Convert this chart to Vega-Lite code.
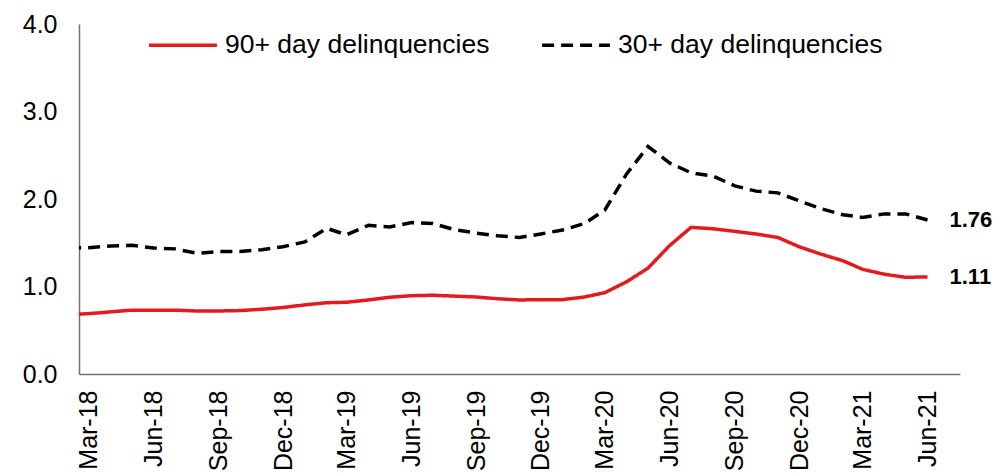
{
  "$schema": "https://vega.github.io/schema/vega-lite/v6.json",
  "width": 881,
  "height": 350,
  "autosize": {"type": "none"},
  "padding": {"left": 79, "top": 24, "right": 40, "bottom": 100},
  "background": "white",
  "config": {
    "view": {"stroke": null},
    "font": "Liberation Sans",
    "axis": {"labelFont": "Liberation Sans", "labelColor": "#000000", "grid": false, "ticks": false, "domainColor": "#767171", "domainWidth": 1.5, "title": null},
    "legend": {"labelFont": "Liberation Sans"}
  },
  "data": {
    "values": [
      {"date": "2018-02-01", "series": "90+ day delinquencies", "value": 0.68},
      {"date": "2018-03-01", "series": "90+ day delinquencies", "value": 0.69},
      {"date": "2018-04-01", "series": "90+ day delinquencies", "value": 0.71},
      {"date": "2018-05-01", "series": "90+ day delinquencies", "value": 0.73},
      {"date": "2018-06-01", "series": "90+ day delinquencies", "value": 0.73},
      {"date": "2018-07-01", "series": "90+ day delinquencies", "value": 0.73},
      {"date": "2018-08-01", "series": "90+ day delinquencies", "value": 0.72},
      {"date": "2018-09-01", "series": "90+ day delinquencies", "value": 0.72},
      {"date": "2018-10-01", "series": "90+ day delinquencies", "value": 0.725},
      {"date": "2018-11-01", "series": "90+ day delinquencies", "value": 0.74},
      {"date": "2018-12-01", "series": "90+ day delinquencies", "value": 0.76},
      {"date": "2019-01-01", "series": "90+ day delinquencies", "value": 0.79},
      {"date": "2019-02-01", "series": "90+ day delinquencies", "value": 0.815},
      {"date": "2019-03-01", "series": "90+ day delinquencies", "value": 0.82},
      {"date": "2019-04-01", "series": "90+ day delinquencies", "value": 0.846},
      {"date": "2019-05-01", "series": "90+ day delinquencies", "value": 0.877},
      {"date": "2019-06-01", "series": "90+ day delinquencies", "value": 0.895},
      {"date": "2019-07-01", "series": "90+ day delinquencies", "value": 0.90},
      {"date": "2019-08-01", "series": "90+ day delinquencies", "value": 0.89},
      {"date": "2019-09-01", "series": "90+ day delinquencies", "value": 0.88},
      {"date": "2019-10-01", "series": "90+ day delinquencies", "value": 0.86},
      {"date": "2019-11-01", "series": "90+ day delinquencies", "value": 0.846},
      {"date": "2019-12-01", "series": "90+ day delinquencies", "value": 0.85},
      {"date": "2020-01-01", "series": "90+ day delinquencies", "value": 0.85},
      {"date": "2020-02-01", "series": "90+ day delinquencies", "value": 0.88},
      {"date": "2020-03-01", "series": "90+ day delinquencies", "value": 0.93},
      {"date": "2020-04-01", "series": "90+ day delinquencies", "value": 1.055},
      {"date": "2020-05-01", "series": "90+ day delinquencies", "value": 1.21},
      {"date": "2020-06-01", "series": "90+ day delinquencies", "value": 1.47},
      {"date": "2020-07-01", "series": "90+ day delinquencies", "value": 1.676},
      {"date": "2020-08-01", "series": "90+ day delinquencies", "value": 1.66},
      {"date": "2020-09-01", "series": "90+ day delinquencies", "value": 1.63},
      {"date": "2020-10-01", "series": "90+ day delinquencies", "value": 1.60},
      {"date": "2020-11-01", "series": "90+ day delinquencies", "value": 1.56},
      {"date": "2020-12-01", "series": "90+ day delinquencies", "value": 1.455},
      {"date": "2021-01-01", "series": "90+ day delinquencies", "value": 1.37},
      {"date": "2021-02-01", "series": "90+ day delinquencies", "value": 1.295},
      {"date": "2021-03-01", "series": "90+ day delinquencies", "value": 1.196},
      {"date": "2021-04-01", "series": "90+ day delinquencies", "value": 1.14},
      {"date": "2021-05-01", "series": "90+ day delinquencies", "value": 1.105},
      {"date": "2021-06-01", "series": "90+ day delinquencies", "value": 1.11},
      {"date": "2018-02-01", "series": "30+ day delinquencies", "value": 1.44},
      {"date": "2018-03-01", "series": "30+ day delinquencies", "value": 1.444},
      {"date": "2018-04-01", "series": "30+ day delinquencies", "value": 1.463},
      {"date": "2018-05-01", "series": "30+ day delinquencies", "value": 1.47},
      {"date": "2018-06-01", "series": "30+ day delinquencies", "value": 1.44},
      {"date": "2018-07-01", "series": "30+ day delinquencies", "value": 1.43},
      {"date": "2018-08-01", "series": "30+ day delinquencies", "value": 1.38},
      {"date": "2018-09-01", "series": "30+ day delinquencies", "value": 1.40},
      {"date": "2018-10-01", "series": "30+ day delinquencies", "value": 1.40},
      {"date": "2018-11-01", "series": "30+ day delinquencies", "value": 1.42},
      {"date": "2018-12-01", "series": "30+ day delinquencies", "value": 1.455},
      {"date": "2019-01-01", "series": "30+ day delinquencies", "value": 1.51},
      {"date": "2019-02-01", "series": "30+ day delinquencies", "value": 1.665},
      {"date": "2019-03-01", "series": "30+ day delinquencies", "value": 1.59},
      {"date": "2019-04-01", "series": "30+ day delinquencies", "value": 1.70},
      {"date": "2019-05-01", "series": "30+ day delinquencies", "value": 1.68},
      {"date": "2019-06-01", "series": "30+ day delinquencies", "value": 1.73},
      {"date": "2019-07-01", "series": "30+ day delinquencies", "value": 1.72},
      {"date": "2019-08-01", "series": "30+ day delinquencies", "value": 1.65},
      {"date": "2019-09-01", "series": "30+ day delinquencies", "value": 1.61},
      {"date": "2019-10-01", "series": "30+ day delinquencies", "value": 1.58},
      {"date": "2019-11-01", "series": "30+ day delinquencies", "value": 1.56},
      {"date": "2019-12-01", "series": "30+ day delinquencies", "value": 1.60},
      {"date": "2020-01-01", "series": "30+ day delinquencies", "value": 1.646},
      {"date": "2020-02-01", "series": "30+ day delinquencies", "value": 1.72},
      {"date": "2020-03-01", "series": "30+ day delinquencies", "value": 1.874},
      {"date": "2020-04-01", "series": "30+ day delinquencies", "value": 2.29},
      {"date": "2020-05-01", "series": "30+ day delinquencies", "value": 2.60},
      {"date": "2020-06-01", "series": "30+ day delinquencies", "value": 2.41},
      {"date": "2020-07-01", "series": "30+ day delinquencies", "value": 2.30},
      {"date": "2020-08-01", "series": "30+ day delinquencies", "value": 2.263},
      {"date": "2020-09-01", "series": "30+ day delinquencies", "value": 2.15},
      {"date": "2020-10-01", "series": "30+ day delinquencies", "value": 2.09},
      {"date": "2020-11-01", "series": "30+ day delinquencies", "value": 2.07},
      {"date": "2020-12-01", "series": "30+ day delinquencies", "value": 1.98},
      {"date": "2021-01-01", "series": "30+ day delinquencies", "value": 1.89},
      {"date": "2021-02-01", "series": "30+ day delinquencies", "value": 1.82},
      {"date": "2021-03-01", "series": "30+ day delinquencies", "value": 1.79},
      {"date": "2021-04-01", "series": "30+ day delinquencies", "value": 1.83},
      {"date": "2021-05-01", "series": "30+ day delinquencies", "value": 1.83},
      {"date": "2021-06-01", "series": "30+ day delinquencies", "value": 1.76}
    ]
  },
  "encoding": {
    "x": {
      "field": "date",
      "type": "temporal",
      "scale": {
        "type": "utc",
        "domain": [
          {"year": 2018, "month": "feb", "date": 15, "utc": true},
          {"year": 2021, "month": "jul", "date": 17, "utc": true}
        ]
      },
      "axis": {
        "format": "%b-%y",
        "labelAngle": -90,
        "labelFontSize": 25,
        "labelPadding": 16,
        "labelOverlap": false,
        "values": [
          {"year": 2018, "month": "mar", "date": 1, "utc": true},
          {"year": 2018, "month": "jun", "date": 1, "utc": true},
          {"year": 2018, "month": "sep", "date": 1, "utc": true},
          {"year": 2018, "month": "dec", "date": 1, "utc": true},
          {"year": 2019, "month": "mar", "date": 1, "utc": true},
          {"year": 2019, "month": "jun", "date": 1, "utc": true},
          {"year": 2019, "month": "sep", "date": 1, "utc": true},
          {"year": 2019, "month": "dec", "date": 1, "utc": true},
          {"year": 2020, "month": "mar", "date": 1, "utc": true},
          {"year": 2020, "month": "jun", "date": 1, "utc": true},
          {"year": 2020, "month": "sep", "date": 1, "utc": true},
          {"year": 2020, "month": "dec", "date": 1, "utc": true},
          {"year": 2021, "month": "mar", "date": 1, "utc": true},
          {"year": 2021, "month": "jun", "date": 1, "utc": true}
        ]
      }
    },
    "y": {
      "field": "value",
      "type": "quantitative",
      "scale": {"domain": [0, 4], "nice": false, "zero": true},
      "axis": {"values": [0, 1, 2, 3, 4], "format": ".1f", "labelFontSize": 25, "labelPadding": 22}
    }
  },
  "layer": [
    {
      "mark": {"type": "line", "strokeWidth": 3.5, "clip": true, "strokeCap": "butt"},
      "encoding": {
        "color": {
          "field": "series",
          "type": "nominal",
          "scale": {"domain": ["90+ day delinquencies", "30+ day delinquencies"], "range": ["#e31b1f", "#000000"]},
          "legend": {
            "title": null,
            "orient": "none",
            "legendX": 68,
            "legendY": -15,
            "direction": "horizontal",
            "symbolType": "stroke",
            "symbolSize": 4600,
            "symbolStrokeWidth": 3.5,
            "labelFontSize": 26.5,
            "labelLimit": 500,
            "labelColor": "#000000",
            "labelOffset": 6,
            "columnPadding": 45,
            "padding": 0
          }
        },
        "strokeDash": {
          "field": "series",
          "type": "nominal",
          "scale": {"domain": ["90+ day delinquencies", "30+ day delinquencies"], "range": [[1, 0], [12, 7]]},
          "legend": null
        }
      }
    },
    {
      "transform": [{"filter": "utcyear(datum.date) == 2021 && utcmonth(datum.date) == 5"}],
      "mark": {"type": "text", "align": "left", "baseline": "middle", "dx": 22, "fontSize": 22, "fontWeight": "bold", "color": "#000000"},
      "encoding": {
        "text": {"field": "value", "type": "quantitative", "format": ".2f"}
      }
    }
  ]
}
